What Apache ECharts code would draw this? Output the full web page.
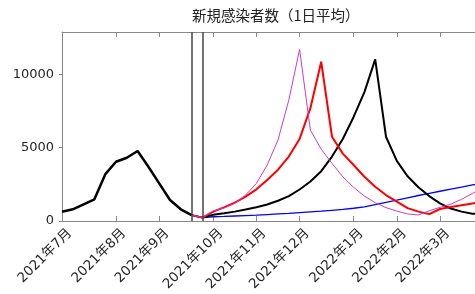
<!DOCTYPE html>
<html>
<head>
<meta charset="utf-8">
<script src="https://cdn.jsdelivr.net/npm/echarts@6/dist/echarts.min.js"></script>
<style>
    html, body { margin: 0; padding: 0; background: #fff; }
    #main { width: 475px; height: 294px; }
</style>
</head>
<body>
<div id="main"></div>
<script>
// 横轴按周计：第0周 = 2021年7月初
var tickWeeks = [0, 5, 9, 14, 18, 22, 27, 31, 35];
var tickLabels = ['2021年7月', '2021年8月', '2021年9月', '2021年10月', '2021年11月',
    '2021年12月', '2022年1月', '2022年2月', '2022年3月'];
var yTicks = [0, 5000, 10000];

// 实绩
var histWeeks = [0, 1, 2, 3, 4, 5, 6, 7, 8, 9, 10, 11, 12];
var histValues = [634, 800, 1140, 1480, 3180, 4045, 4320, 4775, 3700, 2570, 1430, 800, 400];

// 预测（从第12周开始）
var predWeeks = [12, 13, 14, 15, 16, 17, 18, 19, 20, 21, 22, 23, 24, 25,
    26, 27, 28, 29, 30, 31, 32, 33, 34, 35, 36, 37, 38, 39];
var predBlue = [400, 230, 290, 310, 340, 370, 400, 440, 480, 520, 570, 620, 670, 730,
    790, 870, 970, 1120, 1270, 1420, 1580, 1740, 1890, 2030, 2170, 2310, 2460, 2600];
var predBlack = [400, 230, 430, 530, 640, 780, 940, 1130, 1380, 1700, 2150, 2700, 3400, 4400,
    5600, 7100, 8800, 11030, 5750, 4100, 3050, 2300, 1700, 1200, 850, 640, 500, 470];
var predRed = [400, 230, 640, 930, 1250, 1660, 2160, 2800, 3500, 4400, 5600, 7700, 10870, 5750,
    4600, 3820, 3020, 2340, 1770, 1320, 880, 640, 470, 820, 950, 1080, 1200, 1320];
var predMagenta = [400, 230, 690, 880, 1200, 1770, 2570, 3820, 5530, 8250, 11713, 6200, 4900, 3930,
    3020, 2300, 1700, 1250, 910, 680, 480, 410, 700, 930, 1150, 1480, 1880, 2300];

// 两条竖线
var markWeeks = [12, 13];

function pairs(xs, ys) {
    return xs.map(function (x, i) {
        return [x, ys[i]];
    });
}

var chart = echarts.init(document.getElementById('main'));
var labelFont = "'DejaVu Sans', 'Noto Sans CJK JP', sans-serif";

var option = {
    animation: false,
    backgroundColor: '#fff',
    title: {
        text: '新規感染者数（1日平均）',
        left: 192,
        top: 8,
        padding: 0,
        textStyle: {
            fontFamily: "'Noto Sans CJK JP', sans-serif",
            fontSize: 14.5,
            fontWeight: 'normal',
            color: '#222'
        }
    },
    grid: { left: 62, right: 0, top: 32, bottom: 73 },
    xAxis: [
        {
            type: 'value',
            min: 0,
            max: 38.24,
            axisLine: { show: true, lineStyle: { color: '#888', width: 1 } },
            axisTick: { show: true, inside: true, length: 5, customValues: tickWeeks, lineStyle: { color: '#888' } },
            axisLabel: {
                customValues: tickWeeks,
                rotate: 45,
                margin: 18,
                padding: [0, -11, 0, 0],
                fontSize: 13.5,
                fontFamily: labelFont,
                color: '#262626',
                formatter: function (v) {
                    var i = tickWeeks.indexOf(v);
                    return i >= 0 ? tickLabels[i] : '';
                }
            },
            splitLine: { show: false }
        },
        {
            type: 'value',
            position: 'top',
            min: 0,
            max: 38.24,
            axisLine: { show: true, lineStyle: { color: '#888', width: 1 } },
            axisTick: { show: true, inside: true, length: 5, customValues: tickWeeks, lineStyle: { color: '#888' } },
            axisLabel: { show: false },
            splitLine: { show: false }
        }
    ],
    yAxis: {
        type: 'value',
        min: 0,
        max: 12900,
        axisLine: { show: true, lineStyle: { color: '#888', width: 1 } },
        axisTick: { show: true, inside: false, length: 3, customValues: yTicks, lineStyle: { color: '#888' } },
        axisLabel: {
            customValues: yTicks,
            margin: 8,
            fontSize: 13,
            fontFamily: labelFont,
            color: '#262626',
            formatter: function (v) {
                return String(v);
            }
        },
        splitLine: { show: false }
    },
    series: [
        {
            type: 'line',
            data: pairs(predWeeks, predBlue),
            showSymbol: false,
            lineStyle: { color: '#0000ff', width: 1.3 },
            markLine: {
                silent: true,
                symbol: 'none',
                label: { show: false },
                lineStyle: { color: '#444', width: 1.5, type: 'solid' },
                data: markWeeks.map(function (w) { return { xAxis: w }; })
            }
        },
        {
            type: 'line',
            data: pairs(predWeeks, predBlack),
            showSymbol: false,
            lineStyle: { color: '#000', width: 2 }
        },
        {
            type: 'line',
            data: pairs(predWeeks, predRed),
            showSymbol: false,
            lineStyle: { color: '#ff0000', width: 2 }
        },
        {
            type: 'line',
            data: pairs(predWeeks, predMagenta),
            showSymbol: false,
            lineStyle: { color: '#c23fc9', width: 1 }
        },
        {
            type: 'line',
            data: pairs(histWeeks, histValues),
            showSymbol: false,
            lineStyle: { color: '#000', width: 2.5 }
        }
    ]
};

chart.setOption(option);
</script>
</body>
</html>
